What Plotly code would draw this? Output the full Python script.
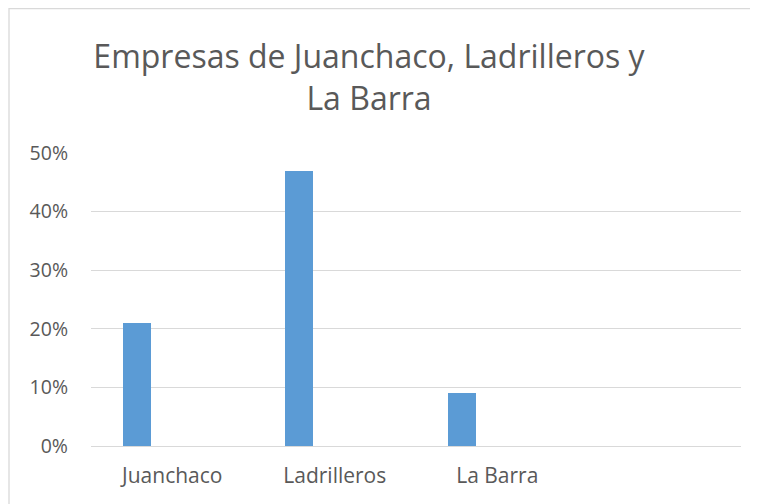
import plotly.graph_objects as go

categories = ["Juanchaco", "Ladrilleros", "La Barra", ""]
values = [0.21, 0.47, 0.09, None]
y_ticks = [0, 0.1, 0.2, 0.3, 0.4, 0.5]
y_tick_labels = ["0%", "10%", "20%", "30%", "40%", "50%"]
title_text = "Empresas de Juanchaco, Ladrilleros y<br>La Barra"

# the page body adds an 8px margin, so the figure is sized to fill the rest
W, H = 750, 496
ML, MR, MT, MB = 83, 17, 145, 58
PW, PH = W - ML - MR, H - MT - MB

TEXT = "#595959"
GRID = "#D9D9D9"
BAR = "#5B9BD5"
FONT = "Open Sans"

xs = list(range(len(categories)))

fig = go.Figure()
fig.add_trace(go.Bar(
    x=xs, y=values,
    marker=dict(color=BAR, line=dict(width=0)),
    offset=-0.305, width=0.172,
    showlegend=False, hoverinfo="skip",
))

def px_to_paper_x(px):
    return (px - ML) / PW

def px_to_paper_y(py):
    return (H - MB - py) / PH

# chart border (top and left edges visible)
fig.add_shape(type="rect", xref="paper", yref="paper",
              x0=px_to_paper_x(1), x1=px_to_paper_x(780),
              y0=px_to_paper_y(530), y1=px_to_paper_y(0.7),
              line=dict(color=GRID, width=1.3), fillcolor="rgba(0,0,0,0)",
              layer="below")

fig.update_layout(
    width=W, height=H,
    margin=dict(l=ML, r=MR, t=MT, b=MB, pad=0),
    paper_bgcolor="white", plot_bgcolor="white",
    font=dict(family=FONT, color=TEXT, size=19),
    title=dict(text=title_text, x=361 / W, xanchor="center", xref="container",
               y=1 - 60 / H, yanchor="top", yref="container",
               font=dict(family=FONT, size=32, color=TEXT)),
    xaxis=dict(range=[-0.5, len(categories) - 0.5], tickvals=xs[:3], ticktext=categories[:3],
               showgrid=False, zeroline=False, showline=False, ticks="",
               tickfont=dict(size=21, color=TEXT), ticklabelstandoff=15),
    yaxis=dict(range=[0, 0.5], tickvals=y_ticks, ticktext=y_tick_labels,
               showgrid=True, gridcolor=GRID, gridwidth=1.3,
               zeroline=True, zerolinecolor=GRID, zerolinewidth=1.3,
               showline=False, ticks="", tickfont=dict(size=19.5, color=TEXT),
               ticklabelstandoff=22),
    bargap=0,
)

fig.write_html("out.html")
